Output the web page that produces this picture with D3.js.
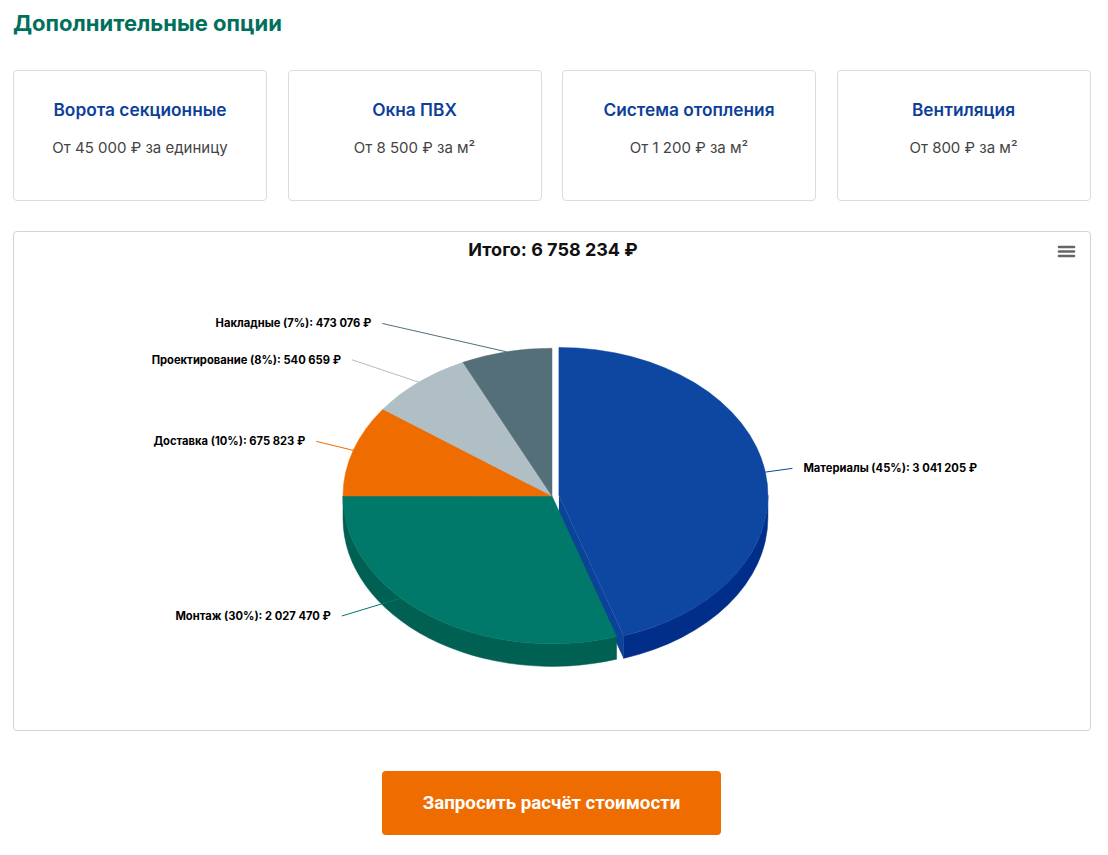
<!DOCTYPE html>
<html lang="ru">
<head>
<meta charset="utf-8">
<title>Дополнительные опции</title>
<script src="https://cdnjs.cloudflare.com/ajax/libs/d3/7.8.5/d3.min.js"></script>
<style>
    html, body { margin: 0; padding: 0; background: #fff; }
    body { width: 1108px; height: 855px; position: relative; font-family: Inter, "Noto Sans", sans-serif; overflow: hidden; }
    .heading { position: absolute; left: 13px; top: 8px; margin: 0; font-size: 22px; line-height: 30px; font-weight: 700; color: #006f5c; }
    .cards { position: absolute; left: 13px; top: 70px; width: 1078px; height: 131px; }
    .card { position: absolute; top: 0; width: 254px; height: 131px; box-sizing: border-box; border: 1px solid #dcdcdc; border-radius: 4px; text-align: center; }
    .card h3 { position: absolute; left: 0; right: 0; top: 29px; margin: 0; font-size: 17.3px; line-height: 20px; font-weight: 600; color: #0d3f9a; }
    .card p { position: absolute; left: 0; right: 0; top: 67px; margin: 0; font-size: 15px; line-height: 20px; color: #444; }
    .chart-box { position: absolute; left: 13px; top: 231px; width: 1078px; height: 500px; box-sizing: border-box; border: 1px solid #d4d4d4; border-radius: 4px; }
    .chart-box svg { position: absolute; left: 0; top: 0; }
    .cta { position: absolute; left: 382px; top: 771px; width: 339px; height: 64px; border: 0; border-radius: 4px; background: #ef6c00; color: #fff; font-family: Roboto, Inter, sans-serif; font-size: 18.7px; font-weight: 700; }
</style>
</head>
<body>
<h2 class="heading">Дополнительные опции</h2>
<div class="cards" id="cards"></div>
<div class="chart-box" id="chart"></div>
<button class="cta" id="cta">Запросить расчёт стоимости</button>

<script>
// --- data ---
const optionTitles = ["Ворота секционные", "Окна ПВХ", "Система отопления", "Вентиляция"];
const optionPrices = ["От 45 000 ₽ за единицу", "От 8 500 ₽ за м²", "От 1 200 ₽ за м²", "От 800 ₽ за м²"];

const costNames = ["Материалы", "Монтаж", "Доставка", "Проектирование", "Накладные"];
const costValues = [3041205, 2027470, 675823, 540659, 473076];
const costColors = ["#0d47a1", "#00796b", "#ef6c00", "#b0bec5", "#546e7a"];
const costSliced = [true, false, false, false, false];
const totalCost = 6758234;

// --- option cards ---
const cardGap = 20.5, cardW = 254;
d3.select("#cards").selectAll("div.card")
    .data(optionTitles)
    .join("div")
    .attr("class", "card")
    .style("left", (d, i) => (i * (cardW + cardGap)) + "px")
    .each(function (d, i) {
        const card = d3.select(this);
        card.append("h3").text(d);
        card.append("p").text(optionPrices[i]);
    });

// --- 3D pie ---
const W = 1076, H = 498;
const svg = d3.select("#chart").append("svg")
    .attr("width", W)
    .attr("height", H);

const fmt = v => d3.format(",")(v).replace(/,/g, " ");

svg.append("text")
    .attr("x", W / 2 + 1)
    .attr("y", 24)
    .attr("text-anchor", "middle")
    .style("font-size", "18px")
    .style("font-weight", 700)
    .style("fill", "#111")
    .text(`Итого: ${fmt(totalCost)} ₽`);

// burger menu
const menu = svg.append("g").attr("transform", "translate(1045,15)");
[0, 4.5, 9].forEach(dy => {
    menu.append("line")
        .attr("x1", 0).attr("x2", 15)
        .attr("y1", dy).attr("y2", dy)
        .attr("stroke", "#666")
        .attr("stroke-width", 2.6)
        .attr("stroke-linecap", "round");
});

const cx = 538, cy = 264;
const r = 209;
const alpha = 45 * Math.PI / 180;
const ry = r * Math.cos(alpha);
const depth = 32 * Math.sin(alpha);
const slicedOffset = 7;
const labelDistance = 33;

const pie = d3.pie().sort(null).value(d => d.value);
const slices = pie(costNames.map((name, i) => ({
    name, value: costValues[i], color: costColors[i], sliced: costSliced[i]
})));

slices.forEach(s => {
    s.mid = (s.startAngle + s.endAngle) / 2;
    s.dx = s.data.sliced ? Math.sin(s.mid) * slicedOffset : 0;
    s.dy = s.data.sliced ? -Math.cos(s.mid) * slicedOffset * Math.cos(alpha) : 0;
    s.side = d3.rgb(s.data.color);
    s.side = d3.rgb(Math.max(0, s.side.r - 25), Math.max(0, s.side.g - 25), Math.max(0, s.side.b - 25));
});

// point on top ellipse, angle clockwise from 12 o'clock
const pt = (a, s, down = 0) => [cx + s.dx + r * Math.sin(a), cy + s.dy - ry * Math.cos(a) + down];

function topPath(s) {
    const p0 = pt(s.startAngle, s), p1 = pt(s.endAngle, s);
    const large = s.endAngle - s.startAngle > Math.PI ? 1 : 0;
    return `M${cx + s.dx},${cy + s.dy}L${p0}A${r},${ry} 0 ${large} 1 ${p1}Z`;
}

function wallPath(s) {
    const a0 = Math.max(s.startAngle, Math.PI / 2);
    const a1 = Math.min(s.endAngle, Math.PI * 1.5);
    if (a1 <= a0) return null;
    const p0 = pt(a0, s), p1 = pt(a1, s), q1 = pt(a1, s, depth), q0 = pt(a0, s, depth);
    return `M${p0}A${r},${ry} 0 0 1 ${p1}L${q1}A${r},${ry} 0 0 0 ${q0}Z`;
}

function radialPath(s, a) {
    const c = [cx + s.dx, cy + s.dy];
    const p = pt(a, s);
    return `M${c}L${p}L${p[0]},${p[1] + depth}L${c[0]},${c[1] + depth}Z`;
}

const pieG = svg.append("g");

// radial faces that look toward the viewer
slices.forEach(s => {
    if (Math.sin(s.startAngle) < -1e-6)
        pieG.append("path").attr("d", radialPath(s, s.startAngle)).attr("fill", s.side);
    if (Math.sin(s.endAngle) > 1e-6)
        pieG.append("path").attr("d", radialPath(s, s.endAngle)).attr("fill", d3.rgb(s.data.color).darker(0.15));
});

// outer walls
pieG.selectAll("path.wall")
    .data(slices.filter(s => wallPath(s)))
    .join("path")
    .attr("class", "wall")
    .attr("d", wallPath)
    .attr("fill", d => d.side)
    .attr("stroke", d => d.side)
    .attr("stroke-width", 0.5);

// top faces
pieG.selectAll("path.top")
    .data(slices)
    .join("path")
    .attr("class", "top")
    .attr("d", topPath)
    .attr("fill", d => d.data.color)
    .attr("stroke", d => d.data.color)
    .attr("stroke-width", 0.5);

// data labels
const labelR = r + labelDistance;
const labelRise = labelR - r * (1 - Math.cos(alpha)) - 4;
const plotTop = cy - 190, plotBottom = cy + 120;
const labelG = svg.append("g");

slices.forEach(s => {
    const right = Math.sin(s.mid) >= 0;
    const natural = cy - Math.cos(s.mid) * labelRise;
    const ly = Math.max(plotTop, Math.min(plotBottom, natural));
    const lx = cx + (right ? 1 : -1) * Math.sqrt(labelR * labelR - (ly - cy) * (ly - cy));
    // a label pushed up by the plot edge touches the slice further along its rim
    let touchAngle = s.mid;
    if (ly !== natural) touchAngle = s.mid + (right ? -1 : 1) * 0.18;
    const touch = pt(touchAngle, s);

    labelG.append("path")
        .attr("d", d3.line()([[lx, ly], touch]))
        .attr("fill", "none")
        .attr("stroke", s.data.color)
        .attr("stroke-width", 1);

    const pct = Math.round(s.data.value / totalCost * 100);
    labelG.append("text")
        .attr("x", lx + (right ? 11 : -11))
        .attr("y", ly)
        .attr("dy", "0.35em")
        .attr("text-anchor", right ? "start" : "end")
        .style("font-size", "11.2px")
        .style("font-weight", 700)
        .style("fill", "#000")
        .text(`${s.data.name} (${pct}%): ${fmt(s.data.value)} ₽`);
});
</script>
</body>
</html>
